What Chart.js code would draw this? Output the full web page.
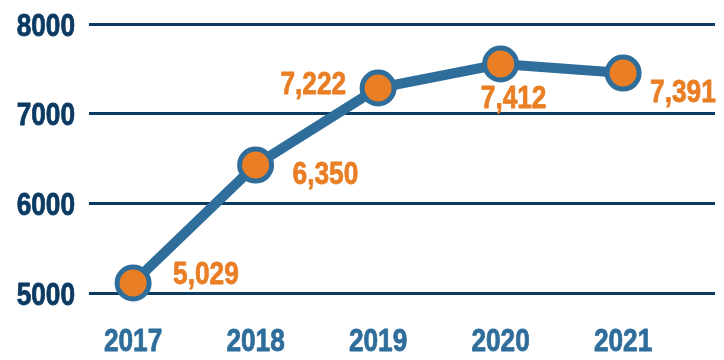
<!DOCTYPE html>
<html>
<head>
<meta charset="utf-8">
<script src="https://cdn.jsdelivr.net/npm/chart.js@4/dist/chart.umd.min.js"></script>
<style>
  html, body { margin: 0; padding: 0; background: #fff; overflow: hidden; }
  #wrap { width: 724px; height: 360px; }
</style>
</head>
<body>
<div id="wrap"><canvas id="Chart1"></canvas></div>
<script>
// data
const years = [2017, 2018, 2019, 2020, 2021];
const values = [5112, 6427, 7286, 7554, 7453];      // plotted positions
const valueLabels = ['5,029', '6,350', '7,222', '7,412', '7,391'];
const yTicks = [5000, 6000, 7000, 8000];

const NAVY = '#0b3a63';
const STEEL = '#2f6d9b';
const ORANGE = '#e97e24';

// narrow bold look: Liberation Sans Bold squeezed like Arial Narrow
const FONT = "bold 32px 'Liberation Sans', Arial, sans-serif";
const SQUEEZE = 0.82;

function narrowText(ctx, text, x, y, align, color) {
  ctx.save();
  ctx.translate(x, y);
  ctx.scale(SQUEEZE, 1);
  ctx.font = FONT;
  ctx.fillStyle = color;
  ctx.strokeStyle = color;
  ctx.lineWidth = 0.8;
  ctx.lineJoin = 'round';
  ctx.textAlign = align;
  ctx.textBaseline = 'alphabetic';
  // y is the visual middle of the digits (cap height ~23px)
  ctx.fillText(text, 0, 11.5);
  ctx.strokeText(text, 0, 11.5);
  ctx.restore();
}

// where each value label sits relative to its point
const labelPlace = [
  { align: 'left', dx: 40, dy: -10 },
  { align: 'left', dx: 37, dy: 7 },
  { align: 'right', dx: -32, dy: -6 },
  { align: 'center', dx: 13, dy: 33 },
  { align: 'left', dx: 27, dy: 17 }
];

const textPlugin = {
  id: 'narrowTexts',
  afterDraw(chart) {
    const ctx = chart.ctx;
    const xs = chart.scales.x;
    const ys = chart.scales.y;
    const area = chart.chartArea;
    yTicks.forEach(v => {
      narrowText(ctx, String(v), area.left - 14, ys.getPixelForValue(v), 'right', NAVY);
    });
    years.forEach(v => {
      narrowText(ctx, String(v), xs.getPixelForValue(v), area.bottom + 46, 'center', STEEL);
    });
  },
  afterDatasetsDraw(chart) {
    const ctx = chart.ctx;
    const meta = chart.getDatasetMeta(0);
    meta.data.forEach((pt, i) => {
      const p = labelPlace[i];
      narrowText(ctx, valueLabels[i], pt.x + p.dx, pt.y + p.dy, p.align, ORANGE);
    });
  }
};

const ctx = document.getElementById('Chart1');
const config = {
  type: 'line',
  data: {
    datasets: [{
      data: years.map((y, i) => ({ x: y, y: values[i] })),
      borderColor: STEEL,
      borderWidth: 10,
      tension: 0,
      pointRadius: 16,
      pointHoverRadius: 16,
      pointBackgroundColor: ORANGE,
      pointBorderColor: STEEL,
      pointBorderWidth: 5,
      clip: false
    }]
  },
  options: {
    responsive: true,
    maintainAspectRatio: false,
    animation: false,
    layout: { autoPadding: false, padding: { left: 89, right: 9, top: 24, bottom: 67 } },
    plugins: {
      legend: { display: false },
      tooltip: { enabled: false }
    },
    scales: {
      x: {
        type: 'linear',
        min: 2016.64,
        max: 2021.75,
        grid: { display: false, drawTicks: false },
        border: { display: false },
        ticks: { display: false }
      },
      y: {
        min: 5000,
        max: 8000,
        afterBuildTicks: (axis) => { axis.ticks = yTicks.map(v => ({ value: v })); },
        grid: { color: NAVY, lineWidth: 3, drawTicks: false },
        border: { display: false },
        ticks: { display: false }
      }
    }
  },
  plugins: [textPlugin]
};

const myChart = new Chart(ctx, config);
</script>
</body>
</html>
